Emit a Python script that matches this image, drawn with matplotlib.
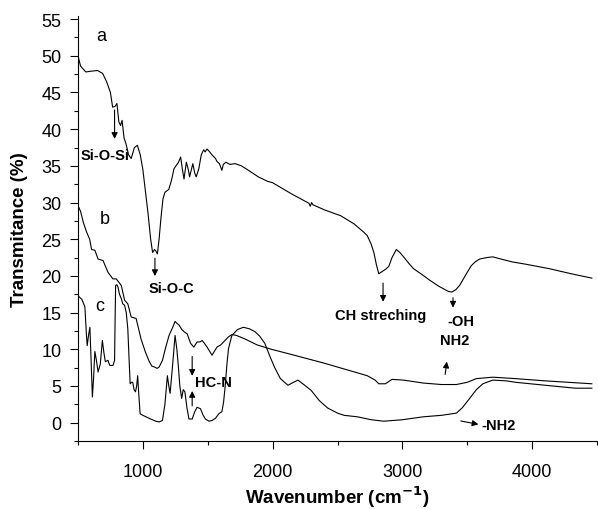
import matplotlib
matplotlib.use("Agg")
import matplotlib.pyplot as plt
from matplotlib.ticker import MultipleLocator

plt.rcParams['font.family'] = ['Liberation Sans', 'DejaVu Sans']

# curve a
wn_a = [500, 520, 560, 600, 650, 690, 720, 750, 767, 785, 800, 815, 828, 840, 855, 870, 890, 910,
        935, 958, 980, 1000, 1020, 1040, 1060, 1075, 1090, 1100, 1112, 1125, 1140, 1155, 1170, 1200,
        1220, 1240, 1255, 1275, 1291, 1305, 1317, 1335, 1350, 1360, 1385, 1400, 1411, 1431, 1450,
        1469, 1480, 1494, 1510, 1533, 1560, 1571, 1590, 1609, 1620, 1640, 1670, 1711, 1760, 1813,
        1890, 1960, 2000, 2144, 2280, 2290, 2300, 2310, 2400, 2525, 2627, 2700, 2729, 2760, 2780,
        2800, 2818, 2844, 2870, 2895, 2920, 2953, 2980, 3009, 3050, 3085, 3150, 3212, 3280, 3353,
        3380, 3410, 3441, 3490, 3531, 3560, 3594, 3650, 3696, 3760, 3849, 3950, 4129, 4300, 4460]
t_a = [50.0, 48.6, 47.8, 47.9, 48.0, 47.6, 46.5, 45.0, 43.0, 43.1, 43.5, 41.0, 40.5, 41.2, 38.8,
       38.0, 36.5, 36.0, 37.5, 37.8, 36.5, 34.5, 31.5, 28.5, 25.0, 23.2, 23.6, 23.4, 23.0, 25.0,
       28.0, 30.5, 31.4, 31.8, 33.0, 34.6, 35.0, 35.5, 36.2, 34.5, 33.2, 35.5, 34.5, 33.5, 35.3,
       34.0, 33.5, 34.6, 36.5, 37.2, 36.9, 37.3, 37.0, 36.5, 36.0, 35.6, 35.3, 34.4, 35.2, 35.5,
       35.2, 35.3, 35.0, 34.4, 33.5, 32.9, 32.7, 31.2, 29.9, 29.5, 30.0, 29.7, 29.0, 28.2, 27.1,
       26.0, 25.5, 24.3, 23.2, 21.5, 20.3, 20.6, 20.9, 21.3, 22.5, 23.6, 23.2, 22.6, 21.7, 21.0,
       20.2, 19.4, 18.6, 17.9, 17.8, 18.1, 18.7, 20.2, 21.4, 21.9, 22.3, 22.5, 22.6, 22.3, 21.9,
       21.6, 21.0, 20.3, 19.7]

# curve b
wn_b = [500, 520, 541, 566, 590, 605, 630, 655, 693, 731, 769, 795, 834, 859, 884, 910, 948, 986,
        1020, 1050, 1070, 1088, 1110, 1126, 1151, 1175, 1202, 1230, 1248, 1265, 1279, 1300, 1317,
        1342, 1368, 1393, 1418, 1440, 1457, 1475, 1495, 1533, 1571, 1600, 1622, 1660, 1686, 1720,
        1788, 1880, 1991, 2144, 2399, 2652, 2729, 2790, 2818, 2869, 2920, 3009, 3161, 3300, 3416,
        3500, 3569, 3696, 3874, 4100, 4460]
t_b = [29.6, 28.8, 27.3, 26.0, 25.0, 23.6, 23.5, 22.3, 22.1, 20.5, 19.6, 19.6, 18.7, 16.7, 16.2,
       14.4, 14.2, 11.4, 9.6, 8.3, 7.7, 7.6, 7.4, 7.6, 8.5, 10.2, 11.9, 13.0, 13.8, 13.5, 13.3,
       12.7, 12.4, 12.1, 10.8, 10.3, 11.0, 11.0, 11.2, 10.8, 10.3, 9.2, 10.3, 10.6, 11.0, 11.7,
       12.0, 11.9, 11.4, 10.6, 10.0, 9.3, 8.1, 6.8, 6.4, 5.8, 5.3, 5.3, 5.9, 5.8, 5.4, 5.2, 5.2,
       5.5, 6.0, 6.2, 6.0, 5.7, 5.3]

# curve c
wn_c = [500, 530, 553, 565, 571, 582, 592, 602, 611, 620, 630, 642, 655, 672, 688, 700, 711, 731,
        745, 757, 770, 782, 786, 790, 800, 808, 820, 834, 845, 859, 872, 884, 893, 902, 912, 922,
        932, 943, 952, 960, 968, 979, 1000, 1024, 1060, 1100, 1126, 1151, 1170, 1189, 1200, 1210,
        1230, 1248, 1262, 1273, 1285, 1299, 1311, 1324, 1340, 1355, 1380, 1400, 1418, 1444, 1465,
        1482, 1510, 1533, 1560, 1584, 1609, 1622, 1635, 1648, 1660, 1686, 1730, 1775, 1820, 1864,
        1900, 1940, 1980, 2016, 2060, 2118, 2150, 2195, 2240, 2297, 2360, 2424, 2500, 2551, 2653,
        2760, 2856, 3000, 3161, 3300, 3416, 3460, 3518, 3570, 3620, 3696, 3800, 3874, 4100, 4332,
        4460]
t_c = [17.3, 16.8, 15.8, 12.0, 10.5, 12.0, 13.0, 8.0, 3.5, 6.0, 9.7, 8.5, 6.9, 8.0, 11.2, 9.5,
       8.3, 8.5, 7.8, 7.8, 7.8, 8.5, 14.0, 18.7, 18.8, 18.5, 17.5, 16.9, 16.2, 16.0, 15.0, 12.8,
       9.0, 5.3, 5.5, 5.5, 4.5, 4.2, 5.0, 6.4, 4.0, 1.2, 1.0, 0.8, 0.5, 0.2, 0.1, 0.3, 2.5, 6.4,
       5.0, 4.0, 8.0, 11.9, 10.0, 7.8, 5.0, 3.3, 4.5, 4.2, 2.0, 0.5, 0.5, 1.5, 2.1, 1.9, 1.0, 0.5,
       0.2, 0.3, 0.6, 1.2, 1.5, 2.8, 5.1, 8.0, 10.1, 11.9, 12.7, 13.0, 12.8, 12.4, 11.8, 10.8,
       9.0, 7.5, 6.0, 5.1, 5.4, 5.8, 5.2, 4.4, 3.0, 2.0, 1.3, 1.0, 0.8, 0.4, 0.2, 0.4, 0.8, 1.0,
       1.3, 2.0, 3.3, 4.5, 5.3, 5.8, 5.7, 5.5, 5.1, 4.7, 4.7]

fig = plt.figure(figsize=(5.98, 5.10), dpi=100)
ax = fig.add_axes([0.1304, 0.1333, 0.868, 0.833])

for wn, t in [(wn_a, t_a), (wn_b, t_b), (wn_c, t_c)]:
    ax.plot(wn, t, color='k', lw=0.8)

ax.set_xlim(500, 4500)
ax.set_ylim(-2.5, 55.4)
ax.xaxis.set_major_locator(MultipleLocator(1000))
ax.xaxis.set_minor_locator(MultipleLocator(500))
ax.yaxis.set_major_locator(MultipleLocator(5))
ax.yaxis.set_minor_locator(MultipleLocator(2.5))
ax.tick_params(which='major', direction='out', length=5.8, width=0.8, labelsize=13)
ax.tick_params(which='minor', direction='out', length=3, width=0.8)
ax.tick_params(axis='x', which='major', pad=10)
ax.tick_params(axis='y', which='major', pad=6)
ax.spines['top'].set_visible(False)
ax.spines['right'].set_visible(False)

ax.set_xlabel('Wavenumber (cm$^{\\mathbf{-1}}$)', fontsize=13.5, fontweight='bold')
ax.set_ylabel('Transmitance (%)', fontsize=13.5, fontweight='bold')
ax.xaxis.set_label_coords(0.5, -0.129)
ax.xaxis.label.set_va('center')
ax.yaxis.set_label_coords(-0.096, 0.5)

ax.text(680, 52.8, 'a', fontsize=13, ha='center', va='center')
ax.text(706, 27.8, 'b', fontsize=13, ha='center', va='center')
ax.text(668, 16.0, 'c', fontsize=13, ha='center', va='center')

arrow = dict(arrowstyle='-|>', color='k', lw=0.8, mutation_scale=9)
bold = dict(fontsize=10.5, fontweight='bold')

ax.annotate('', xy=(782, 38.3), xytext=(782, 43.0), arrowprops=arrow)
ax.text(706, 36.5, 'Si-O-Si', ha='center', va='center', **bold)

ax.annotate('', xy=(1093, 19.6), xytext=(1093, 22.8), arrowprops=arrow)
ax.text(1223, 18.3, 'Si-O-C', ha='center', va='center', **bold)

ax.annotate('', xy=(1380, 6.0), xytext=(1380, 9.4), arrowprops=arrow)
ax.annotate('', xy=(1380, 4.7), xytext=(1380, 1.9), arrowprops=arrow)
ax.text(1403, 5.6, 'HC-N', ha='left', va='center', **bold)

ax.annotate('', xy=(2851, 16.1), xytext=(2851, 19.4), arrowprops=arrow)
ax.text(2831, 14.7, 'CH streching', ha='center', va='center', **bold)

ax.annotate('', xy=(3390, 15.3), xytext=(3390, 17.4), arrowprops=arrow)
ax.text(3454, 13.8, '-OH', ha='center', va='center', **bold)

ax.text(3403, 11.2, 'NH2', ha='center', va='center', **bold)
ax.annotate('', xy=(3345, 8.7), xytext=(3327, 6.2), arrowprops=arrow)

ax.annotate('', xy=(3607, -0.3), xytext=(3429, 0.3), arrowprops=arrow)
ax.text(3610, -0.3, '-NH2', ha='left', va='center', **bold)

fig.savefig('out.png', dpi=100)
